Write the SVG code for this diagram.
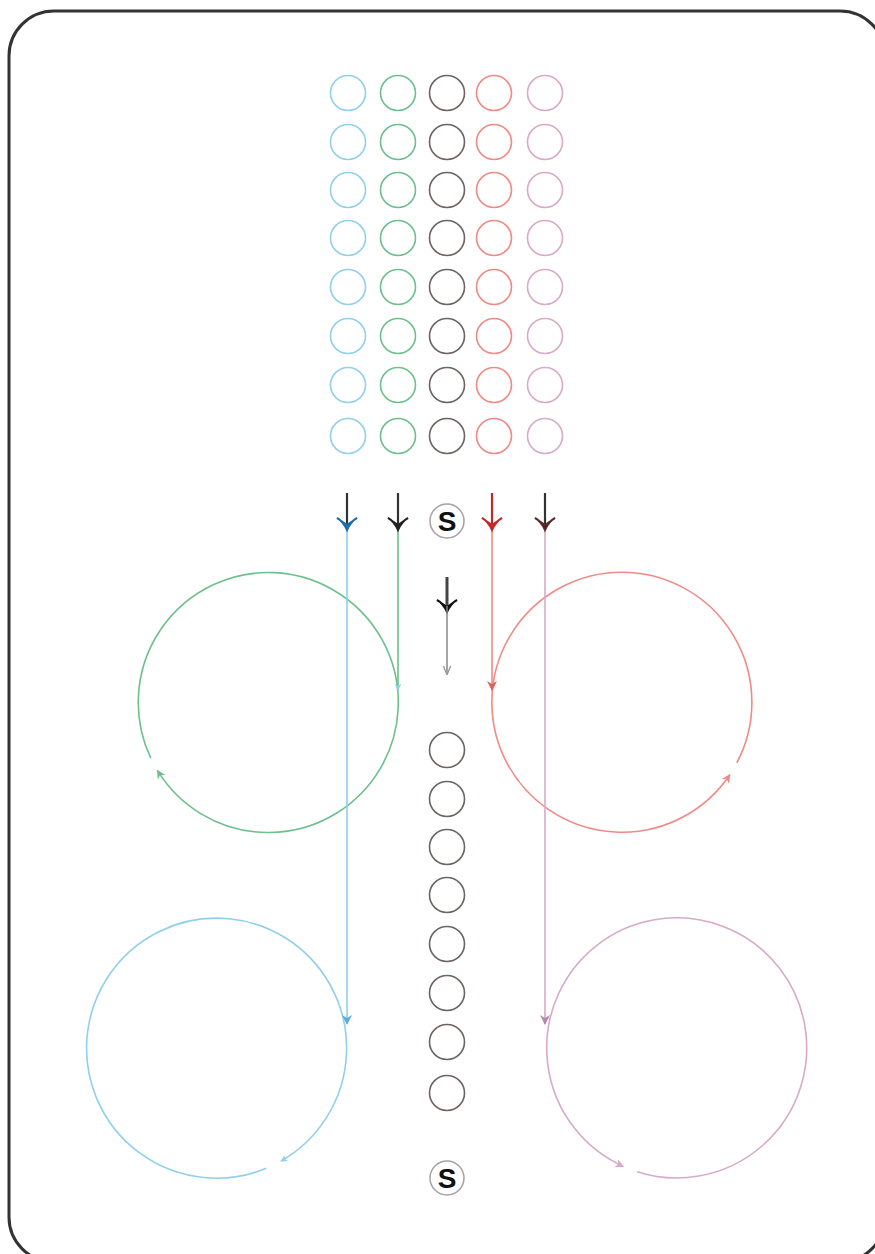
<svg xmlns="http://www.w3.org/2000/svg" width="875" height="1254" viewBox="0 0 875 1254">
<defs>
<style>
.frame{fill:#fff;stroke:#333;stroke-width:3}
.c{fill:none;stroke-width:1.6}
.cb{stroke:#8fd0ec}.cg{stroke:#6cc08c}.ck{stroke:#6e6262}.cr{stroke:#f08a84}.cp{stroke:#d8aac8}
.ln{fill:none;stroke-width:1.6}
.sym circle{fill:#fff;stroke:#a9a0a6;stroke-width:1.5}
.sym text{font-family:"Liberation Sans",Arial,sans-serif;font-weight:bold;font-size:28px;fill:#111;text-anchor:middle}
</style>
<marker id="hb" viewBox="0 0 10 10" refX="9" refY="5" markerWidth="7" markerHeight="7" orient="auto" markerUnits="userSpaceOnUse"><path d="M0,0 L10,5 L0,10 L3,5 Z" fill="#8fd0ec"/></marker>
<marker id="hg" viewBox="0 0 10 10" refX="9" refY="5" markerWidth="9" markerHeight="9" orient="auto" markerUnits="userSpaceOnUse"><path d="M0,0 L10,5 L0,10 L3,5 Z" fill="#6cc08c"/></marker>
<marker id="hr" viewBox="0 0 10 10" refX="9" refY="5" markerWidth="9" markerHeight="9" orient="auto" markerUnits="userSpaceOnUse"><path d="M0,0 L10,5 L0,10 L3,5 Z" fill="#f08a84"/></marker>
<marker id="hp" viewBox="0 0 10 10" refX="9" refY="5" markerWidth="9" markerHeight="9" orient="auto" markerUnits="userSpaceOnUse"><path d="M0,0 L10,5 L0,10 L3,5 Z" fill="#d8aac8"/></marker>
<marker id="hbd" viewBox="0 0 10 10" refX="9" refY="5" markerWidth="10" markerHeight="10" orient="auto" markerUnits="userSpaceOnUse"><path d="M0,0 L10,5 L0,10 L3,5 Z" fill="#5aaee0"/></marker>
<marker id="hrd" viewBox="0 0 10 10" refX="9" refY="5" markerWidth="10" markerHeight="10" orient="auto" markerUnits="userSpaceOnUse"><path d="M0,0 L10,5 L0,10 L3,5 Z" fill="#e2605a"/></marker>
<marker id="hpd" viewBox="0 0 10 10" refX="9" refY="5" markerWidth="10" markerHeight="10" orient="auto" markerUnits="userSpaceOnUse"><path d="M0,0 L10,5 L0,10 L3,5 Z" fill="#b888a8"/></marker>
<marker id="hgy" viewBox="0 0 10 10" refX="9" refY="5" markerWidth="9" markerHeight="9" orient="auto" markerUnits="userSpaceOnUse"><path d="M0,1 L10,5 L0,9" fill="none" stroke="#999" stroke-width="1.5"/></marker>
<g id="col">
<circle cx="0" cy="93" r="17.5"/><circle cx="0" cy="142" r="17.5"/><circle cx="0" cy="190" r="17.5"/><circle cx="0" cy="238" r="17.5"/>
<circle cx="0" cy="287" r="17.5"/><circle cx="0" cy="336" r="17.5"/><circle cx="0" cy="385" r="17.5"/><circle cx="0" cy="436" r="17.5"/>
</g>
<path id="chev" d="M-10,-9 Q-4,-6 0,3 Q4,-6 10,-9 L0,-2 Z"/>
</defs>

<rect class="frame" x="9" y="11" width="876" height="1251" rx="45" ry="45"/>

<g id="grid">
<use href="#col" x="348" class="c cb"/>
<use href="#col" x="398" class="c cg"/>
<use href="#col" x="447" class="c ck"/>
<use href="#col" x="494" class="c cr"/>
<use href="#col" x="545" class="c cp"/>
</g>

<g id="loop-green"><path class="c cg" d="M150.8,758.2 A130,130 0 1 1 157.4,770.4" marker-end="url(#hg)"/></g>
<g id="loop-red"><path class="c cr" d="M736.9,762.8 A130,130 0 1 0 729.8,774.7" marker-end="url(#hr)"/></g>
<g id="loop-blue"><path class="c cb" d="M266.3,1168.3 A130,130 0 1 1 281.0,1161.1" marker-end="url(#hb)"/></g>
<g id="loop-pink"><path class="c cp" d="M637.1,1171.7 A130,130 0 1 0 623.3,1166.4" marker-end="url(#hp)"/></g>

<g id="queue">
<use href="#col" x="447" y="657" class="c ck"/>
</g>

<g id="s-top" class="sym"><circle cx="447" cy="521" r="17"/><text x="447" y="531">S</text></g>
<g id="s-bottom" class="sym"><circle cx="447" cy="1178" r="17"/><text x="447" y="1188">S</text></g>

<g id="connectors">
<line class="ln cb" x1="347" y1="493" x2="347" y2="1024" marker-end="url(#hbd)"/>
<line class="ln cg" x1="398" y1="493" x2="398" y2="690" marker-end="url(#hb)"/>
<line class="ln cr" x1="492" y1="493" x2="492" y2="690" marker-end="url(#hrd)"/>
<line class="ln cp" x1="545" y1="493" x2="545" y2="1024" marker-end="url(#hpd)"/>
<line x1="347" y1="493" x2="347" y2="524" stroke="#333" stroke-width="2.2"/>
<use href="#chev" x="347" y="527" fill="#1a7fc0" stroke="#1a6fa8" stroke-width="2"/>
<line x1="398" y1="493" x2="398" y2="524" stroke="#333" stroke-width="2.2"/>
<use href="#chev" x="398" y="527" fill="#222" stroke="#222" stroke-width="2"/>
<line x1="492" y1="493" x2="492" y2="524" stroke="#c62828" stroke-width="2.2"/>
<use href="#chev" x="492" y="527" fill="#c62828" stroke="#c62828" stroke-width="2"/>
<line x1="545" y1="493" x2="545" y2="524" stroke="#333" stroke-width="2.2"/>
<use href="#chev" x="545" y="527" fill="#222" stroke="#5a2a2a" stroke-width="2"/>
<line x1="447" y1="577" x2="447" y2="606" stroke="#444" stroke-width="3"/>
<use href="#chev" x="447" y="609" fill="#111" stroke="#111" stroke-width="2"/>
<line x1="447" y1="606" x2="447" y2="674" stroke="#888" stroke-width="1.5" marker-end="url(#hgy)"/>
</g>
</svg>
